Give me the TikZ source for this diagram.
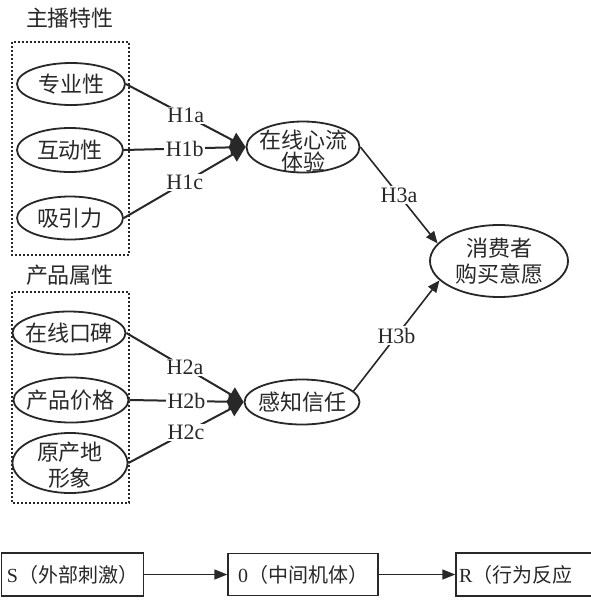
\documentclass[tikz,border=0pt]{standalone}
\usepackage{fontspec}
\setmainfont{Liberation Serif}
\newfontfamily\cjk{Noto Sans CJK SC}
\usetikzlibrary{shapes.geometric,arrows.meta}
\definecolor{ink}{RGB}{40,40,40}
\begin{document}
\begin{tikzpicture}[x=1pt,y=-1pt,
  oval/.style={draw=ink, ellipse, line width=1.8pt, inner sep=0pt},
  lbl/.style={font=\fontsize{22}{26}\selectfont\cjk, text=ink, align=center, inner sep=0pt},
  ttl/.style={font=\fontsize{22}{26}\selectfont\cjk, text=ink},
  hyp/.style={fill=white, inner sep=1.5pt, font=\fontsize{22}{22}\selectfont, text=ink},
  conn/.style={draw=ink, line width=2pt, -{Triangle[length=15pt,width=16pt]}},
  conntwo/.style={draw=ink, line width=1.6pt, -{Triangle[length=12pt,width=10pt]}},
  connthree/.style={draw=ink, line width=1.5pt, -{Triangle[length=13pt,width=10pt]}},
  grp/.style={draw=ink, line width=1.8pt, dash pattern=on 1.8pt off 2.2pt},
  sbox/.style={draw=ink, line width=1.4pt, inner sep=0pt, font=\fontsize{20}{22}\selectfont, text=ink}
]
\clip (0,0) rectangle (591,603);
\fill[white] (0,0) rectangle (591,603);

% group titles and frames
\node[ttl] (t1) at (70,18) {主播特性};
\node[ttl] (t2) at (70,275) {产品属性};
\draw[grp] (12,42) rectangle (129,255);
\draw[grp] (12,292) rectangle (129,503);

% left ellipses
\node[oval, minimum width=108pt, minimum height=42pt, label={[lbl]center:专业性}] (zy) at (71,84) {};
\node[oval, minimum width=106pt, minimum height=44pt, label={[lbl]center:互动性}] (hd) at (70,150) {};
\node[oval, minimum width=106pt, minimum height=43pt, label={[lbl]center:吸引力}] (xy) at (70,218) {};
\node[oval, minimum width=113pt, minimum height=43pt, label={[lbl]center:在线口碑}] (kb) at (69,333) {};
\node[oval, minimum width=115pt, minimum height=45pt, label={[lbl]center:产品价格}] (jg) at (71,400) {};
\node[oval, minimum width=115pt, minimum height=60pt, label={[lbl, yshift=-2pt]center:原产地\\形象}] (xx) at (70,463) {};

% middle and right ellipses
\node[oval, minimum width=113pt, minimum height=51pt, label={[lbl, font=\fontsize{22}{22}\selectfont\cjk, yshift=-4pt]center:在线心流\\体验}] (flow) at (303,147) {};
\node[oval, minimum width=115pt, minimum height=45pt, label={[lbl]center:感知信任}] (trust) at (302,402) {};
\node[oval, minimum width=138pt, minimum height=72pt, label={[lbl]center:消费者\\购买意愿}] (buy) at (499,261) {};

% hypotheses H1
\draw[conn] (zy.east) -- node[hyp] (h1a) {H1a} (flow.west);
\draw[conn] (hd.east) -- node[hyp] (h1b) {H1b} (flow.west);
\draw[conn] (xy.east) -- node[hyp] (h1c) {H1c} (flow.west);
% hypotheses H2
\draw[conn] (kb.east) -- node[hyp] (h2a) {H2a} (trust.west);
\draw[conn] (jg.east) -- node[hyp] (h2b) {H2b} (trust.west);
\draw[conn] (xx.east) -- node[hyp] (h2c) {H2c} (trust.west);
% hypotheses H3
\draw[conntwo] (flow.east) -- node[hyp] (h3a) {H3a} (buy.164);
\draw[conntwo] (trust.12) -- node[hyp] (h3b) {H3b} (buy.198);

% S-O-R chain
\node[sbox, minimum width=142pt, minimum height=43pt] (s) at (72.5,574.5) {S{\cjk（外部刺激）}};
\node[sbox, minimum width=150pt, minimum height=42pt] (o) at (303,574.5) {0{\cjk（中间机体）}};
\node[sbox, minimum width=150pt, minimum height=43pt] (r) at (531,574.5) {};
\node[sbox, draw=none, anchor=west] (rt) at ([xshift=3pt]r.west) {R{\cjk（行为反应}};
\draw[connthree] (s.east) -- (o.west);
\draw[connthree] (o.east) -- (r.west);
\end{tikzpicture}
\end{document}
